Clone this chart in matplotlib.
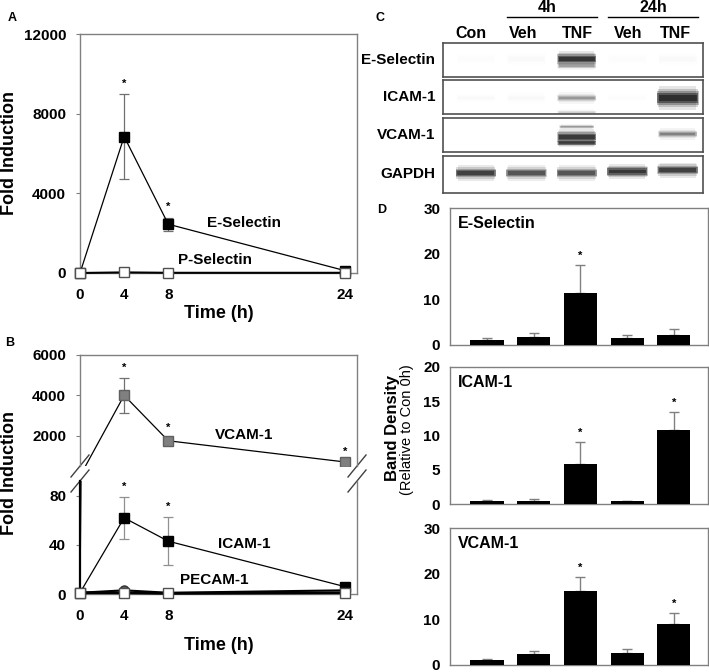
import numpy as np
import matplotlib.pyplot as plt
from matplotlib.patches import Rectangle

plt.rcParams["font.family"] = ["Liberation Sans", "DejaVu Sans"]
plt.rcParams["font.weight"] = "bold"

W, H = 709, 672

# panel A / B: fold induction over time
time_h = [0, 4, 8, 24]
e_selectin = [1, 6850, 2450, 120]
e_selectin_err = [0, 2130, 330, 0]
p_selectin = [1, 30, 10, 10]

vcam1 = [1, 4000, 1750, 700]
vcam1_err = [0, 850, 110, 0]
icam1 = [1, 62, 43, 6]
icam1_err = [0, 17, 19.5, 0]
pecam1 = [1, 1, 0.5, 1]
pecam1_b = [1, 3, 1, 3]

# panel C: western blot band darkness per lane
lanes = ["Con", "Veh", "TNF", "Veh", "TNF"]
blot_rows = ["E-Selectin", "ICAM-1", "VCAM-1", "GAPDH"]
band_esel = [0.01, 0.015, 0.95, 0.01, 0.015]
band_icam = [0.015, 0.02, 0.35, 0.01, 1.0]
band_vcam = [0.0, 0.0, 0.9, 0.0, 0.45]
band_gapdh = [0.85, 0.7, 0.7, 0.92, 0.85]

# panel D: band density
dens_esel = [1.0, 1.8, 11.4, 1.6, 2.2]
dens_esel_err = [0.6, 0.9, 6.1, 0.6, 1.2]
dens_icam = [0.4, 0.5, 5.8, 0.4, 10.8]
dens_icam_err = [0.2, 0.2, 3.2, 0.1, 2.7]
dens_vcam = [1.0, 2.3, 16.1, 2.7, 9.0]
dens_vcam_err = [0.3, 0.7, 3.2, 0.8, 2.4]

GRAY = "#808080"

fig = plt.figure(figsize=(W / 100, H / 100), dpi=100)


def fax(l, t, r, b):
    return fig.add_axes([l / W, 1 - b / H, (r - l) / W, (b - t) / H])


def ft(x, y, s, **kw):
    kw.setdefault("ha", "center")
    kw.setdefault("va", "center")
    return fig.text(x / W, 1 - y / H, s, **kw)


def frame(ax, color=GRAY, lw=1.0):
    for s in ax.spines.values():
        s.set_color(color)
        s.set_linewidth(lw)


def star(ax, x, y, dy=4, size=8):
    ax.annotate("*", (x, y), xytext=(0, dy), textcoords="offset points",
                ha="center", va="bottom", fontsize=size)


# ---------------- A ----------------
axA = fax(80, 34, 357, 273)
frame(axA)
axA.set_xlim(0, 25.1)
axA.set_ylim(0, 12000)
axA.set_xticks(time_h)
axA.set_yticks([0, 4000, 8000, 12000])
axA.tick_params(axis="y", length=3, color=GRAY, pad=7, labelsize=11)
axA.tick_params(axis="x", length=0, pad=11, labelsize=11)
axA.errorbar(time_h, e_selectin, yerr=e_selectin_err, fmt="none", ecolor="#707070",
             elinewidth=0.9, capsize=3.5, capthick=0.9, zorder=2)
axA.plot(time_h, e_selectin, color="black", lw=0.9, marker="s", ms=6.5,
         mfc="black", mec="black", clip_on=False, zorder=4)
axA.plot(time_h, p_selectin, color="black", lw=1.5, marker="s", ms=7,
         mfc="white", mec="#505050", clip_on=False, zorder=5)
star(axA, 4, e_selectin[1] + e_selectin_err[1])
star(axA, 8, e_selectin[2] + e_selectin_err[2])
axA.text(14.9, 2500, "E-Selectin", fontsize=11, ha="center", va="center")
axA.text(12.2, 650, "P-Selectin", fontsize=11, ha="center", va="center")
ft(219, 313, "Time (h)", fontsize=13)
ft(10, 153, "Fold Induction", fontsize=13, rotation=90)
ft(12, 18, "A", fontsize=9)

# ---------------- B ----------------
axB1 = fax(80, 355, 357, 466)
axB2 = fax(80, 481, 357, 594)
for ax in (axB1, axB2):
    frame(ax)
    ax.set_xlim(0, 25.1)
    ax.tick_params(axis="y", length=3, color=GRAY, pad=7, labelsize=11)
    ax.tick_params(axis="x", length=0, pad=11, labelsize=11)
axB1.spines["bottom"].set_visible(False)
axB2.spines["top"].set_visible(False)
axB2.spines["left"].set_color("black")
axB2.spines["left"].set_linewidth(1.6)
axB1.set_ylim(500, 6000)
axB1.set_yticks([2000, 4000, 6000])
axB1.set_xticks([])
axB2.set_ylim(0, 92)
axB2.set_yticks([0, 40, 80])
axB2.set_xticks(time_h)

axB1.errorbar(time_h, vcam1, yerr=vcam1_err, fmt="none", ecolor="#707070",
              elinewidth=0.9, capsize=3.5, capthick=0.9, zorder=2)
axB1.plot(time_h, vcam1, color="black", lw=0.9, marker="s", ms=7.5,
          mfc="#808080", mec="#606060", zorder=4)
axB2.plot(time_h, vcam1, color="black", lw=0.9, zorder=1)
for i in (1, 2, 3):
    star(axB1, time_h[i], vcam1[i] + vcam1_err[i])

axB2.errorbar(time_h, icam1, yerr=icam1_err, fmt="none", ecolor="#909090",
              elinewidth=0.9, capsize=3.5, capthick=0.9, zorder=2)
axB2.plot(time_h, pecam1_b, color="black", lw=1.5, marker="o", ms=6.5,
          mfc="#606060", mec="#303030", clip_on=False, zorder=3)
axB2.plot(time_h, icam1, color="black", lw=0.9, marker="s", ms=6.5,
          mfc="black", mec="black", clip_on=False, zorder=4)
axB2.plot(time_h, pecam1, color="black", lw=2.0, marker="s", ms=7,
          mfc="white", mec="#505050", clip_on=False, zorder=5)
star(axB2, 4, icam1[1] + icam1_err[1])
star(axB2, 8, icam1[2] + icam1_err[2])

axB1.text(14.9, 2030, "VCAM-1", fontsize=11, ha="center", va="center")
axB2.text(14.9, 41, "ICAM-1", fontsize=11, ha="center", va="center")
axB2.text(12.2, 11.5, "PECAM-1", fontsize=11, ha="center", va="center")

# break marks
for ax, yb, hpx in ((axB1, 0, 111), (axB2, 1, 113)):
    dx, dy = 9 / 277, 11 / hpx
    for xb in (0, 1):
        ax.plot([xb - dx, xb + dx], [yb - dy, yb + dy], transform=ax.transAxes,
                color="#404040", lw=1.0, clip_on=False)

ft(219, 645, "Time (h)", fontsize=13)
ft(10, 473, "Fold Induction", fontsize=13, rotation=90)
ft(10, 343, "B", fontsize=9)

# ---------------- C ----------------
row_boxes = [(43, 77), (80, 114), (118, 152), (156, 193)]
row_y = [60, 97, 135, 174]


def band(ax, x, y, h, d, w=0.78):
    # stacked translucent layers give a soft, blurred band
    layers = ((2.4, 0.88, 0.10), (1.8, 0.94, 0.16), (1.35, 0.98, 0.25),
              (1.0, 0.96, 0.40), (0.6, 0.9, 0.45))
    for s, ws, a in layers:
        ww = w * ws
        ax.add_patch(Rectangle((x - ww / 2, y - h * s / 2), ww, h * s,
                               color="black", alpha=min(1, a * d), lw=0))


blot_axes = []
for (t, b) in row_boxes:
    ax = fax(443, t, 703, b)
    ax.set_xlim(-0.65, 4.5)
    ax.set_ylim(0, 1)
    ax.set_xticks([])
    ax.set_yticks([])
    frame(ax, "#505050", 1.2)
    blot_axes.append(ax)

for i, d in enumerate(band_esel):
    band(blot_axes[0], i, 0.53, 0.2, d)
band(blot_axes[0], 2, 0.32, 0.1, 0.25)

for i, d in enumerate(band_icam):
    band(blot_axes[1], i, 0.47, 0.3 if i == 4 else 0.14, d, 0.84 if i == 4 else 0.78)
band(blot_axes[1], 2, 0.04, 0.08, 0.15)

for i, d in enumerate(band_vcam):
    band(blot_axes[2], i, 0.44 if i != 4 else 0.53, 0.2 if i != 4 else 0.14, d)
band(blot_axes[2], 2, 0.74, 0.06, 0.35, 0.7)
band(blot_axes[2], 2, 0.26, 0.1, 0.75)

gapdh_y = [0.54, 0.54, 0.54, 0.58, 0.62]
for i, d in enumerate(band_gapdh):
    band(blot_axes[3], i, gapdh_y[i], 0.17, d, 0.82)

for name, y in zip(blot_rows, row_y):
    ft(435, y, name, fontsize=11, ha="right")
for x, name in zip([471, 523, 577, 628, 675], lanes):
    ft(x, 33, name, fontsize=11.5)
ft(547, 7, "4h", fontsize=11.5)
ft(653, 7, "24h", fontsize=11.5)
for x0, x1 in ((507, 597), (608, 698)):
    fig.add_artist(plt.Line2D([x0 / W, x1 / W], [1 - 17 / H] * 2, color="black", lw=1))
ft(380, 18, "C", fontsize=9)

# ---------------- D ----------------
d_panels = [
    ("E-Selectin", dens_esel, dens_esel_err, 30, [0, 10, 20, 30], (208, 345), [2]),
    ("ICAM-1", dens_icam, dens_icam_err, 20, [0, 5, 10, 15, 20], (367, 504), [2, 4]),
    ("VCAM-1", dens_vcam, dens_vcam_err, 30, [0, 10, 20, 30], (528, 665), [2, 4]),
]
x = np.arange(len(lanes))
for title, vals, errs, top, ticks, (t, b), stars in d_panels:
    ax = fax(450, t, 708, b)
    frame(ax)
    ax.bar(x, vals, width=0.71, color="black", zorder=3)
    ax.errorbar(x, vals, yerr=[np.zeros(len(vals)), errs], fmt="none", ecolor="#808080",
                elinewidth=1.0, capsize=3.5, capthick=1.0, zorder=2)
    ax.set_xlim(-0.79, 4.73)
    ax.set_ylim(0, top)
    ax.set_xticks([])
    ax.set_yticks(ticks)
    ax.tick_params(axis="y", length=0, pad=7, labelsize=11)
    ax.text(0.03, 0.89, title, transform=ax.transAxes, fontsize=11.5, ha="left", va="center")
    for i in stars:
        star(ax, i, vals[i] + errs[i], dy=3)

ft(392, 428, "Band Density", fontsize=12, rotation=90)
ft(407, 430, "(Relative to Con 0h)", fontsize=10.5, rotation=90, fontweight="normal")
ft(382, 210, "D", fontsize=9)

fig.savefig("out.png", dpi=100)
